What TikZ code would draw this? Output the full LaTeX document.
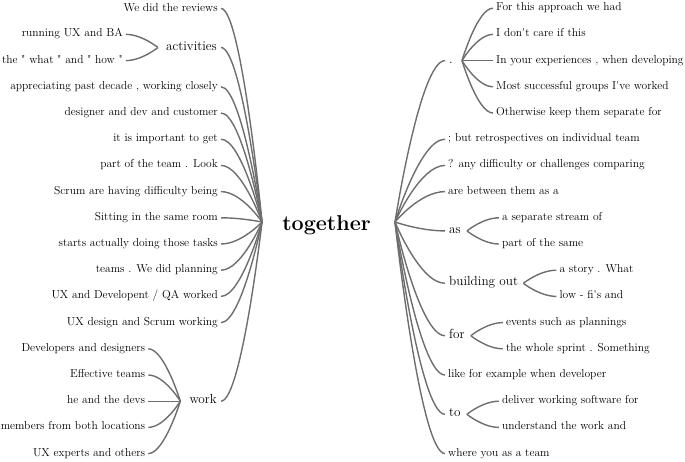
\documentclass[tikz,border=0pt]{standalone}
\usepackage{fontspec}
\usetikzlibrary{calc}
\definecolor{linkgray}{HTML}{6E6E6E}
\definecolor{txt}{HTML}{000000}
\newcommand\wl[2]{\draw[link] let \p1=(#1), \p2=(#2) in (\p1) .. controls (\p1) and ({0.5*\x1+0.5*\x2},\y2) .. (\p2);}
\newcommand\qd{\textquotedbl}
\newcommand\qs{\textquotesingle}
\tikzset{
  leaf/.style={font=\fontsize{11.5}{13}\selectfont, text=txt, inner xsep=3pt, inner ysep=0pt, text height=1.3ex, text depth=0.1ex},
  midw/.style={font=\fontsize{13.2}{15}\selectfont, text=txt, inner xsep=4pt, inner ysep=0pt, text height=1.3ex, text depth=0.1ex},
  rootw/.style={font=\fontsize{21.5}{25}\selectfont\bfseries, text=txt},
  link/.style={draw=linkgray, line width=1.4pt},
}
\begin{document}
\begin{tikzpicture}[x=1pt,y=-1pt]
\useasboundingbox (0,0) rectangle (685,462);
% root
\node[rootw] (root) at (326.5,225) {together};
\coordinate (JL) at (262,222);
\coordinate (JR) at (395,222);
% ---------- left side ----------
\node[leaf,anchor=east] (L0) at (221,8.5) {We did the reviews};
\node[midw,anchor=east] (Lact) at (221,47.5) {activities};
\node[leaf,anchor=east] (L3) at (221,86.8) {appreciating past decade , working closely};
\node[leaf,anchor=east] (L4) at (221,113) {designer and dev and customer};
\node[leaf,anchor=east] (L5) at (221,139.2) {it is important to get};
\node[leaf,anchor=east] (L6) at (221,165.4) {part of the team . Look};
\node[leaf,anchor=east] (L7) at (221,191.6) {Scrum are having difficulty being};
\node[leaf,anchor=east] (L8) at (221,217.8) {Sitting in the same room};
\node[leaf,anchor=east] (L9) at (221,244) {starts actually doing those tasks};
\node[leaf,anchor=east] (L10) at (221,270.2) {teams . We did planning};
\node[leaf,anchor=east] (L11) at (221,296.4) {UX and Developent / QA worked};
\node[leaf,anchor=east] (L12) at (221,322.6) {UX design and Scrum working};
\node[midw,anchor=east] (Lwork) at (221,401.2) {work};
\coordinate (Aj) at ([xshift=-4pt]Lact.west);
\coordinate (Wj) at ([xshift=-5pt]Lwork.west);
% activities children
\node[leaf,anchor=east] (A1) at ([xshift=-32pt,yshift=13.1pt]Aj) {running UX and BA};
\node[leaf,anchor=east] (A2) at ([xshift=-32pt,yshift=-13.1pt]Aj) {the \qd{} what \qd{} and \qd{} how \qd};
% work children
\node[leaf,anchor=east] (W1) at ([xshift=-32pt,yshift=52.4pt]Wj) {Developers and designers};
\node[leaf,anchor=east] (W2) at ([xshift=-32pt,yshift=26.2pt]Wj) {Effective teams};
\node[leaf,anchor=east] (W3) at ([xshift=-32pt]Wj) {he and the devs};
\node[leaf,anchor=east] (W4) at ([xshift=-32pt,yshift=-26.2pt]Wj) {members from both locations};
\node[leaf,anchor=east] (W5) at ([xshift=-32pt,yshift=-52.4pt]Wj) {UX experts and others};
% left links
\foreach \nd in {L0,Lact,L3,L4,L5,L6,L7,L8,L9,L10,L11,L12,Lwork} {\wl{JL}{\nd.east}}
\foreach \nd in {A1,A2} {\wl{Aj}{\nd.east}}
\foreach \nd in {W1,W2,W3,W4,W5} {\wl{Wj}{\nd.east}}
% ---------- right side ----------
\node[midw,anchor=west] (Rdot) at (445,60.6) {.};
\coordinate (Dj) at (462,60.6);
\node[leaf,anchor=west] (R5) at (445,139.2) {; but retrospectives on individual team};
\node[leaf,anchor=west] (R6) at (445,165.4) {? any difficulty or challenges comparing};
\node[leaf,anchor=west] (R7) at (445,191.6) {are between them as a};
\node[midw,anchor=west] (Ras) at (445,230.9) {as};
\node[midw,anchor=west] (Rbo) at (445,283.3) {building out};
\node[midw,anchor=west] (Rfor) at (445,335.7) {for};
\node[leaf,anchor=west] (R14) at (445,375) {like for example when developer};
\node[midw,anchor=west] (Rto) at (445,414.3) {to};
\node[leaf,anchor=west] (R17) at (445,453.6) {where you as a team};
\coordinate (Sj) at ([xshift=2pt]Ras.east);
\coordinate (Bj) at ([xshift=1pt]Rbo.east);
\coordinate (Fj) at ([xshift=2pt]Rfor.east);
\coordinate (Tj) at ([xshift=2pt]Rto.east);
% dot children
\node[leaf,anchor=west] (D1) at ([xshift=31pt,yshift=52.4pt]Dj) {For this approach we had};
\node[leaf,anchor=west] (D2) at ([xshift=31pt,yshift=26.2pt]Dj) {I don\qs t care if this};
\node[leaf,anchor=west] (D3) at ([xshift=31pt]Dj) {In your experiences , when developing};
\node[leaf,anchor=west] (D4) at ([xshift=31pt,yshift=-26.2pt]Dj) {Most successful groups I\qs ve worked};
\node[leaf,anchor=west] (D5) at ([xshift=31pt,yshift=-52.4pt]Dj) {Otherwise keep them separate for};
% as children
\node[leaf,anchor=west] (S1) at ([xshift=32pt,yshift=13.1pt]Sj) {a separate stream of};
\node[leaf,anchor=west] (S2) at ([xshift=32pt,yshift=-13.1pt]Sj) {part of the same};
% building out children
\node[leaf,anchor=west] (B1) at ([xshift=33pt,yshift=13.1pt]Bj) {a story . What};
\node[leaf,anchor=west] (B2) at ([xshift=33pt,yshift=-13.1pt]Bj) {low - fi\qs s and};
% for children
\node[leaf,anchor=west] (F1) at ([xshift=32pt,yshift=13.1pt]Fj) {events such as plannings};
\node[leaf,anchor=west] (F2) at ([xshift=32pt,yshift=-13.1pt]Fj) {the whole sprint . Something};
% to children
\node[leaf,anchor=west] (T1) at ([xshift=32pt,yshift=13.1pt]Tj) {deliver working software for};
\node[leaf,anchor=west] (T2) at ([xshift=32pt,yshift=-13.1pt]Tj) {understand the work and};
% right links
\foreach \nd in {Rdot,R5,R6,R7,Ras,Rbo,Rfor,R14,Rto,R17} {\wl{JR}{\nd.west}}
\foreach \nd in {D1,D2,D3,D4,D5} {\wl{Dj}{\nd.west}}
\foreach \nd in {S1,S2} {\wl{Sj}{\nd.west}}
\foreach \nd in {B1,B2} {\wl{Bj}{\nd.west}}
\foreach \nd in {F1,F2} {\wl{Fj}{\nd.west}}
\foreach \nd in {T1,T2} {\wl{Tj}{\nd.west}}
\end{tikzpicture}
\end{document}
